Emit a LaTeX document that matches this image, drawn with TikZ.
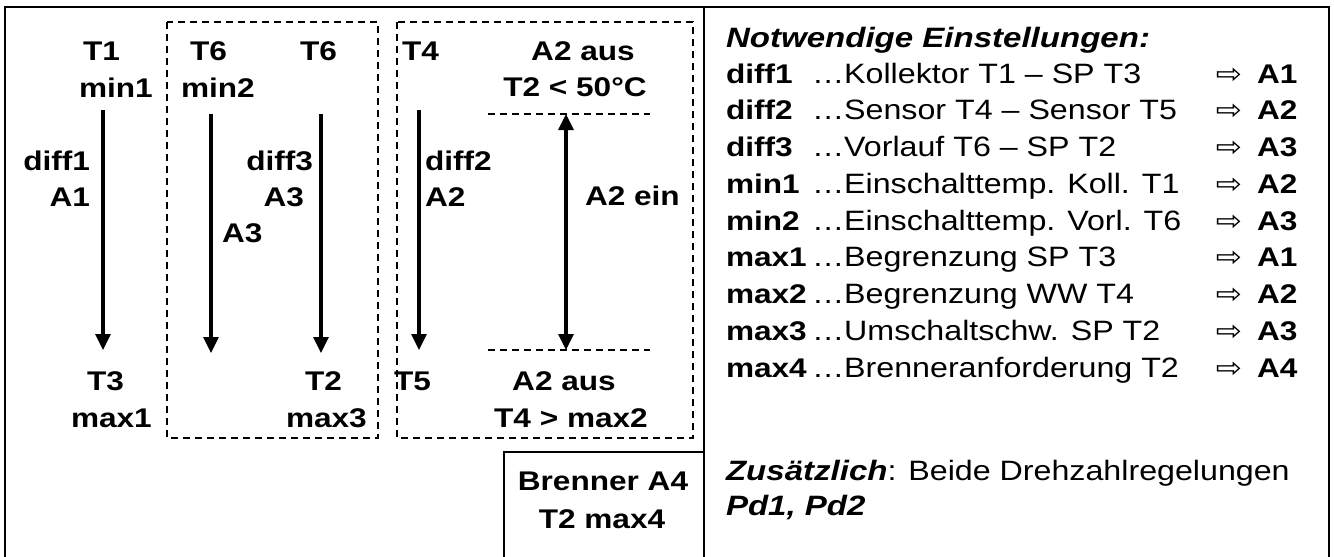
\documentclass[tikz,border=0pt]{standalone}
\usepackage{fontspec}
\setmainfont{Liberation Sans}
\newfontfamily\symf{DejaVu Sans}
\usetikzlibrary{arrows.meta}
\newcommand{\bx}[1]{\scalebox{1.17}[1]{\bfseries #1}}
\newcommand{\ix}[1]{\scalebox{1.18}[1]{\fontsize{28}{30}\selectfont\bfseries\itshape #1}}
\newcommand{\rx}[1]{\scalebox{1.15}[1]{\fontsize{28}{30}\selectfont #1}}
\tikzset{
  lbl/.style={inner sep=0pt, outer sep=0pt, font=\fontsize{27}{30}\selectfont},
  frame/.style={line width=2pt, black},
  dbox/.style={line width=1.5pt, dash pattern=on 7pt off 5pt},
  dline/.style={line width=1.3pt, dash pattern=on 7pt off 5pt},
  flow/.style={line width=3.3pt, -{Triangle[length=16pt,width=15pt]}},
  flowboth/.style={line width=3.3pt, {Triangle[length=16pt,width=15pt]}-{Triangle[length=16pt,width=15pt]}}
}
\begin{document}
\begin{tikzpicture}[x=1pt,y=-1pt]
\useasboundingbox (0,0) rectangle (1334,557);
\fill[white] (0,0) rectangle (1334,557);
% frames
\draw[frame] (5,557) -- (5,7) -- (1329,7) -- (1329,557);
\draw[frame] (704,7) -- (704,557);
\draw[frame] (504,557) -- (504,452) -- (704,452);
\draw[dbox] (167,22) rectangle (378,438);
\draw[dbox] (397,22) rectangle (693,438);
% left column
\node[lbl, anchor=base west] (t1) at (83,60) {\bx{T1}};
\node[lbl, anchor=base west] (min1) at (79,97) {\bx{min1}};
\node[lbl, anchor=base east] (diff1) at (90,170) {\bx{diff1}};
\node[lbl, anchor=base east] (a1) at (90,206) {\bx{A1}};
\node[lbl, anchor=base west] (t3) at (87,390) {\bx{T3}};
\node[lbl, anchor=base west] (max1) at (71,427) {\bx{max1}};
\coordinate (f1s) at (103,110);
\coordinate (f1e) at (103,350);
\draw[flow] (f1s) -- (f1e);
% box 1
\node[lbl, anchor=base west] (t6a) at (190,60) {\bx{T6}};
\node[lbl, anchor=base west] (min2) at (181,97) {\bx{min2}};
\node[lbl, anchor=base west] (a3m) at (222,242) {\bx{A3}};
\node[lbl, anchor=base west] (t6b) at (300,60) {\bx{T6}};
\node[lbl, anchor=base east] (diff3) at (313,170) {\bx{diff3}};
\node[lbl, anchor=base east] (a3) at (304,206) {\bx{A3}};
\node[lbl, anchor=base west] (t2) at (305,390) {\bx{T2}};
\node[lbl, anchor=base west] (max3) at (286,427) {\bx{max3}};
\coordinate (f2s) at (211,114);
\coordinate (f2e) at (211,353);
\coordinate (f3s) at (321,114);
\coordinate (f3e) at (321,353);
\draw[flow] (f2s) -- (f2e);
\draw[flow] (f3s) -- (f3e);
% box 2
\node[lbl, anchor=base west] (t4) at (402,60) {\bx{T4}};
\node[lbl, anchor=base west] (diff2) at (425,170) {\bx{diff2}};
\node[lbl, anchor=base west] (a2) at (425,206) {\bx{A2}};
\node[lbl, anchor=base west] (t5) at (394,390) {\bx{T5}};
\coordinate (f4s) at (419,110);
\coordinate (f4e) at (419,350);
\draw[flow] (f4s) -- (f4e);
\node[lbl, anchor=base] (a2aus1) at (583,60) {\bx{A2 aus}};
\node[lbl, anchor=base] (t2lt) at (575,96) {\bx{T2 < 50°C}};
\coordinate (dl1a) at (488,114);
\coordinate (dl1b) at (650,114);
\coordinate (dl2a) at (488,350);
\coordinate (dl2b) at (650,350);
\draw[dline] (dl1a) -- (dl1b);
\draw[dline] (dl2a) -- (dl2b);
\coordinate (f5s) at (566,350);
\coordinate (f5e) at (566,114);
\draw[flowboth] (f5s) -- (f5e);
\node[lbl, anchor=base west] (a2ein) at (585,205) {\bx{A2 ein}};
\node[lbl, anchor=base] (a2aus2) at (564,390) {\bx{A2 aus}};
\node[lbl, anchor=base] (t4gt) at (571,427) {\bx{T4 > max2}};
% Brenner
\node[lbl, anchor=base] (br1) at (603,490) {\bx{Brenner A4}};
\node[lbl, anchor=base] (br2) at (602,528) {\bx{T2 max4}};
% right panel
\node[lbl, anchor=base west] (head) at (726,47) {\ix{Notwendige Einstellungen:}};
\foreach \i/\k/\d/\a in {0/diff1/Kollektor T1 – SP T3/A1,
                         1/diff2/Sensor T4 – Sensor T5/A2,
                         2/diff3/Vorlauf T6 – SP T2/A3,
                         3/min1/Einschalttemp. Koll. T1/A2,
                         4/min2/Einschalttemp. Vorl. T6/A3,
                         5/max1/Begrenzung SP T3/A1,
                         6/max2/Begrenzung WW T4/A2,
                         7/max3/Umschaltschw. SP T2/A3,
                         8/max4/Brenneranforderung T2/A4} {
  \pgfmathsetmacro{\yy}{83+36.75*\i}
  \node[lbl, anchor=base west] (k\i) at (726,\yy) {\bx{\k}};
  \node[lbl, anchor=base west] (d\i) at (812,\yy) {\rx{…\d}};
  \node[lbl, anchor=base] (s\i) at (1229,\yy) {\scalebox{1.3}[1.15]{\symf\fontsize{24}{26}\selectfont ⇨}};
  \node[lbl, anchor=base west] (o\i) at (1257,\yy) {\bx{\a}};
}
\node[lbl, anchor=base west] (zus) at (726,480) {\ix{Zusätzlich}\rx{: Beide Drehzahlregelungen}};
\node[lbl, anchor=base west] (pd) at (726,515) {\ix{Pd1, Pd2}};
\end{tikzpicture}
\end{document}
